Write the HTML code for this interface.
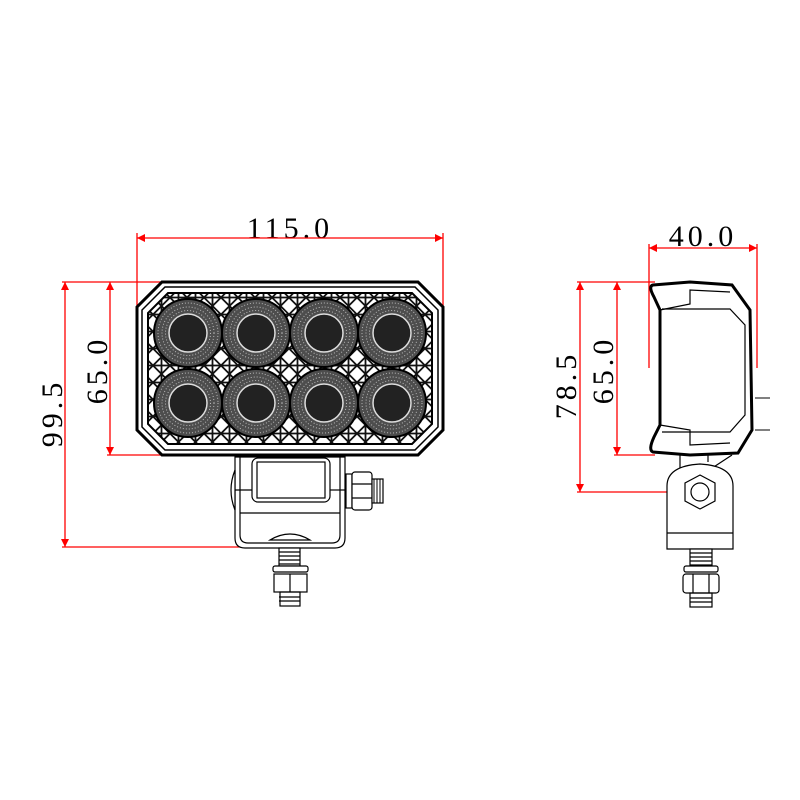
<!DOCTYPE html>
<html><head><meta charset="utf-8"><style>html,body{margin:0;padding:0;background:#fff}svg{display:block}</style></head><body>
<svg width="800" height="800" viewBox="0 0 800 800" xmlns="http://www.w3.org/2000/svg">
<defs>
<marker id="a" viewBox="0 0 10 10" refX="10" refY="5" markerWidth="14" markerHeight="8" markerUnits="userSpaceOnUse" orient="auto-start-reverse"><path d="M0,0 L10,5 L0,10z" fill="#f00"/></marker>
<pattern id="lat" width="17" height="17" patternUnits="userSpaceOnUse">
<rect width="17" height="17" fill="#fff"/>
<path d="M0,8.5 L8.5,0 L17,8.5 L8.5,17z M8.5,0V17 M0,8.5H17" fill="none" stroke="#111" stroke-width="1.8"/>
</pattern>
<g id="L">
<circle r="34" fill="#4d4d4d" stroke="#000" stroke-width="2"/>
<circle r="30" fill="none" stroke="#bbb" stroke-width="1" stroke-dasharray="1 2"/>
<circle r="26" fill="none" stroke="#bbb" stroke-width="1" stroke-dasharray="1 2"/>
<circle r="22.5" fill="none" stroke="#bbb" stroke-width="1" stroke-dasharray="1 2"/>
<circle r="19" fill="#222" stroke="#ddd" stroke-width="1.5"/>
</g>
</defs>
<g font-family="Liberation Serif, serif" font-size="30" fill="#000" letter-spacing="4">
<text x="290" y="238" text-anchor="middle">115.0</text>
<text x="703" y="246" text-anchor="middle">40.0</text>
<text transform="translate(62,413) rotate(-90)" text-anchor="middle">99.5</text>
<text transform="translate(107,370) rotate(-90)" text-anchor="middle">65.0</text>
<text transform="translate(576,385) rotate(-90)" text-anchor="middle">78.5</text>
<text transform="translate(613,370) rotate(-90)" text-anchor="middle">65.0</text>
</g>
<g stroke="#f00" stroke-width="1.3" fill="none">
<line x1="137" y1="238" x2="443" y2="238" marker-start="url(#a)" marker-end="url(#a)"/>
<line x1="137" y1="233" x2="137" y2="315"/><line x1="443" y1="233" x2="443" y2="320"/>
<line x1="65" y1="282" x2="65" y2="547" marker-start="url(#a)" marker-end="url(#a)"/>
<line x1="110" y1="282" x2="110" y2="455" marker-start="url(#a)" marker-end="url(#a)"/>
<line x1="62" y1="282" x2="200" y2="282"/><line x1="107" y1="455" x2="185" y2="455"/><line x1="62" y1="547" x2="255" y2="547"/>
<line x1="649" y1="248" x2="757" y2="248" marker-start="url(#a)" marker-end="url(#a)"/>
<line x1="649" y1="244" x2="649" y2="368"/><line x1="757" y1="244" x2="757" y2="368"/>
<line x1="580" y1="282" x2="580" y2="492" marker-start="url(#a)" marker-end="url(#a)"/>
<line x1="617" y1="282" x2="617" y2="455" marker-start="url(#a)" marker-end="url(#a)"/>
<line x1="577" y1="282" x2="655" y2="282"/><line x1="614" y1="455" x2="655" y2="455"/><line x1="577" y1="492" x2="700" y2="492"/>
</g>
<g stroke="#000" fill="none">
<path d="M162,282 H418 L443,307 V430 L418,455 H162 L137,430 V307z" stroke-width="3"/>
<path d="M165,287 H415 L438,310 V427 L415,450 H165 L142,427 V310z" stroke-width="1.5"/>
<path d="M168,293 H412 L432,313 V424 L412,444 H168 L148,424 V313z" fill="url(#lat)" stroke-width="2"/>
</g>
<use href="#L" x="188" y="333"/><use href="#L" x="256" y="333"/><use href="#L" x="324" y="333"/><use href="#L" x="392" y="333"/>
<use href="#L" x="188" y="403"/><use href="#L" x="256" y="403"/><use href="#L" x="324" y="403"/><use href="#L" x="392" y="403"/>
<g stroke="#000" fill="#fff" stroke-width="1.2">
<path d="M235,457 H345 V538 Q345,548 335,548 H245 Q235,548 235,538z"/>
<path d="M240,457 V535 Q240,543 248,543 H332 Q340,543 340,535 V457" fill="none"/>
<rect x="252" y="458" width="78" height="44" rx="6"/>
<rect x="257" y="462" width="68" height="36" fill="none"/>
<line x1="235" y1="490" x2="252" y2="490"/><line x1="330" y1="490" x2="345" y2="490"/>
<line x1="240" y1="513" x2="340" y2="513"/>
<path d="M270,540 Q290,528 310,540z"/>
<path d="M235,470 Q227,490 235,510z"/>
<rect x="346" y="474" width="6" height="34"/>
<rect x="352" y="472" width="20" height="38" rx="3"/>
<line x1="352" y1="484" x2="372" y2="484"/><line x1="352" y1="498" x2="372" y2="498"/>
<rect x="372" y="479" width="11" height="24" fill="#fff"/>
<path d="M374,479v24M377,479v24M380,479v24" stroke-width="1"/>
<rect x="279" y="548" width="21" height="18"/>
<path d="M279,552h21M279,556h21M279,560h21M279,564h21M279,597h21M279,601h21" stroke-width="1.2"/>
<rect x="273" y="566" width="35" height="6" rx="2"/>
<rect x="274" y="574" width="33" height="18"/>
<line x1="290" y1="574" x2="290" y2="592"/>
<rect x="280" y="592" width="20" height="14" fill="none"/>
</g>
<g stroke="#000" fill="#fff">
<path d="M732,455 L700,476 M680,455 V468 M708,455 V462" fill="none" stroke-width="1.2"/>
<path d="M667,549 V486 Q667,466 700,464 Q733,466 733,486 V549z" stroke-width="1.2"/>
<line x1="667" y1="533" x2="733" y2="533" stroke-width="1.2"/>
<polygon points="700,475 715,483 715,501 700,509 685,501 685,483" stroke-width="1.2"/>
<circle cx="700" cy="492" r="9" stroke-width="1.2"/>
<path d="M653,285 L690,282 L732,285 L750,310 L752,430 L738,453 L690,455 L653,452 Q648,450 654,437 L660,425 V310 L654,297 Q648,286 653,285z" stroke-width="3"/>
<path d="M660,310 L690,304 V290 L730,292 M660,425 L690,430 V445 L730,443" fill="none" stroke-width="1.2"/>
<path d="M662,309 H730 L745,325 V415 L730,432 H662" fill="none" stroke-width="1.2"/>
<path d="M755,398 H770 M755,430 H770" stroke-width="1"/>
<rect x="690" y="549" width="22" height="18" stroke-width="1.2"/>
<path d="M690,553h22M690,557h22M690,561h22M690,565h22M690,598h22M690,602h22" stroke-width="1.2"/>
<rect x="684" y="566" width="34" height="6" rx="2" stroke-width="1.2"/>
<rect x="683" y="574" width="36" height="19" rx="3" stroke-width="1.2"/>
<line x1="693" y1="574" x2="693" y2="593" stroke-width="1.2"/><line x1="709" y1="574" x2="709" y2="593" stroke-width="1.2"/>
<rect x="690" y="593" width="22" height="14" fill="none" stroke-width="1.2"/>
</g>
</svg>
</body></html>
